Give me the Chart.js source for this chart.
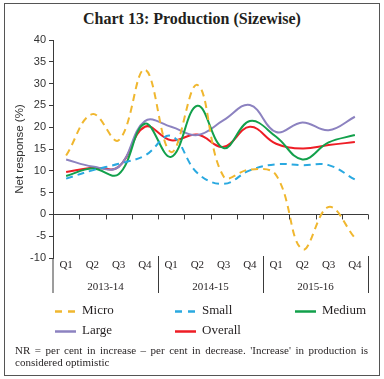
<!DOCTYPE html>
<html><head><meta charset="utf-8">
<script src="https://cdn.jsdelivr.net/npm/chart.js@4"></script>
<style>
html,body{margin:0;padding:0;background:#fff;}
#wrap{position:relative;width:384px;height:379px;overflow:hidden;background:#fff;}
#frame{position:absolute;left:4px;top:3px;width:374px;height:371px;border:1px solid #555;}
#title{position:absolute;left:0;top:10px;width:384px;text-align:center;font:bold 16px "Liberation Serif",serif;color:#231f20;}
canvas{position:absolute;left:0;top:0;}
.lg{position:absolute;height:16px;font:13px "Liberation Serif",serif;color:#231f20;white-space:nowrap;}
.lg svg{position:absolute;left:0;top:7px;}
.lg span{position:absolute;left:27px;top:-1px;}
#note{position:absolute;left:15px;top:344px;width:353px;font:11px "Liberation Serif",serif;line-height:12px;color:#231f20;}
#note .l1{display:block;text-align:justify;text-align-last:justify;}
</style>
</head><body>
<div id="wrap">
<div id="frame"></div>
<div id="title">Chart 13: Production (Sizewise)</div>
<canvas id="c" width="384" height="379"></canvas>
<div id="legend"></div>
<div id="note"><span class="l1">NR = per cent in increase – per cent in decrease. 'Increase' in production is</span>considered optimistic</div>
</div>
<script>
const quarters = ['Q1','Q2','Q3','Q4','Q1','Q2','Q3','Q4','Q1','Q2','Q3','Q4'];
const years = ['2013-14','2014-15','2015-16'];
const micro   = [13.5, 23, 17, 33.2, 14.3, 29.7, 8.7, 10.3, 9, -8, 1.7, -5.4];
const small   = [8.2, 10.1, 11.6, 13.5, 18, 9.5, 7, 10.1, 11.5, 11.3, 11.3, 8];
const medium  = [8.8, 10.5, 9.2, 20.8, 13.2, 24.9, 15.2, 21.4, 17.8, 12.6, 16.5, 18.2];
const large   = [12.6, 11, 10.9, 21.4, 20.1, 18.2, 21.6, 25.1, 18.9, 21.1, 19.3, 22.4];
const overall = [9.7, 10.7, 10.9, 20.1, 17, 18.3, 15.5, 20.1, 16.2, 15.1, 15.9, 16.6];
const seriesNames = ['Micro','Small','Medium','Large','Overall'];
const yTicksMin = -10, yTicksMax = 40, yStep = 5;

const colors = ['#f0b72f','#2aa9e0','#12a04b','#8c82c0','#ee1d25'];
const dashed = [true,true,false,false,false];
const values = [micro, small, medium, large, overall];
const AXIS = '#3a3a3a';

const axisExtras = {
  id:'axisExtras',
  afterDraw(chart){
    const {ctx} = chart; const x = chart.scales.x, x2 = chart.scales.x2, y = chart.scales.y;
    const zero = y.getPixelForValue(0);
    const half = (x.getPixelForValue(1) - x.getPixelForValue(0)) / 2;
    ctx.save();
    ctx.strokeStyle = AXIS; ctx.lineWidth = 1;
    ctx.beginPath();
    for (let i = 0; i < quarters.length; i++) {
      const bx = Math.round(x.getPixelForValue(i) + half) + 0.5;
      ctx.moveTo(bx, zero); ctx.lineTo(bx, zero + 5);
    }
    ctx.stroke();
    ctx.beginPath();
    const per = quarters.length / years.length;
    for (let k = 0; k <= years.length; k++) {
      let bx;
      if (k === 0) bx = x.left; else bx = x.getPixelForValue(k * per - 1) + half;
      bx = Math.round(bx) + (k === 0 ? 0 : 0.5);
      ctx.moveTo(bx, k === 0 ? y.bottom : y.bottom - 2);
      ctx.lineTo(bx, x2.bottom);
    }
    ctx.stroke();
    ctx.restore();
  }
};

new Chart(document.getElementById('c'), {
  type:'line',
  data:{
    labels: quarters,
    datasets: seriesNames.map((n,i)=>({
      label:n, data: values[i], borderColor: colors[i], backgroundColor: colors[i],
      borderWidth: 2, borderDash: dashed[i] ? [7,5] : [], pointRadius:0, tension:0.4,
      fill:false, xAxisID:'x', yAxisID:'y'
    }))
  },
  options:{
    responsive:false, animation:false, devicePixelRatio:1,
    layout:{padding:{left:0, top:40, right:16, bottom:86}},
    plugins:{legend:{display:false}, tooltip:{enabled:false}, title:{display:false}},
    scales:{
      x:{type:'category', position:'bottom', weight:0, offset:true,
         grid:{display:false, drawTicks:false}, border:{display:false},
         ticks:{font:{family:'Liberation Serif', size:11}, color:'#231f20', padding:1, maxRotation:0, autoSkip:false},
         afterFit(s){ s.height = 18; }},
      x2:{type:'category', labels: years, position:'bottom', weight:1, offset:true,
         grid:{display:false, drawTicks:false}, border:{display:false},
         ticks:{font:{family:'Liberation Serif', size:11}, color:'#231f20', padding:5, maxRotation:0},
         afterFit(s){ s.height = 17; }},
      y:{min:yTicksMin, max:yTicksMax,
         ticks:{stepSize:yStep, font:{family:'Liberation Sans', size:11}, color:'#333', padding:3},
         grid:{drawOnChartArea:true, tickLength:4, tickColor:AXIS,
               color:(c)=> (c.tick && c.tick.value === 0) ? AXIS : 'rgba(0,0,0,0)'},
         border:{display:true, color:AXIS, width:1},
         title:{display:true, text:'Net response (%)', font:{family:'Liberation Sans', size:11.5}, color:'#333', padding:{top:13,bottom:0}},
         afterFit(s){ s.width = 53; }}
    }
  },
  plugins:[axisExtras]
});

// legend (HTML)
const legendPos = [[55,303],[175,303],[295,303],[55,323],[175,323]];
const lg = document.getElementById('legend');
seriesNames.forEach((n,i)=>{
  const d = document.createElement('div');
  d.className = 'lg';
  d.style.left = legendPos[i][0] + 'px';
  d.style.top = legendPos[i][1] + 'px';
  d.innerHTML = '<svg width="21" height="3"><line x1="0" y1="1.5" x2="21" y2="1.5" stroke="' + colors[i] +
    '" stroke-width="2.5"' + (dashed[i] ? ' stroke-dasharray="7 6"' : '') + '/></svg><span>' + n + '</span>';
  lg.appendChild(d);
});
</script>
</body></html>
